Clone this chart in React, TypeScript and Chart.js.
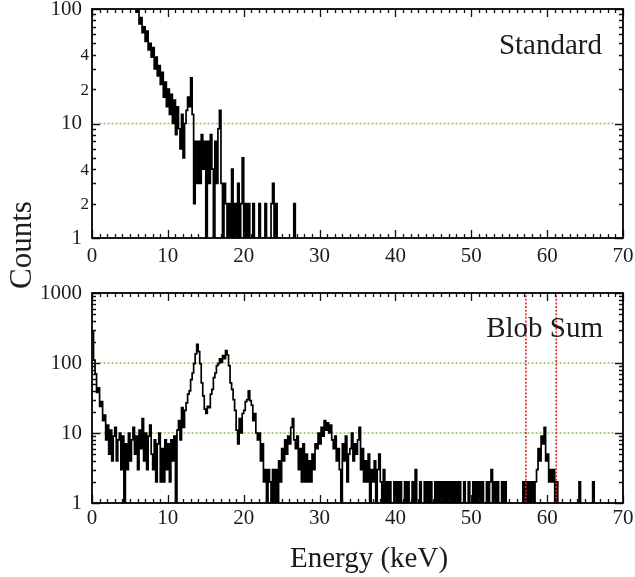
import React, { useEffect, useRef } from 'react';
import { Chart, registerables } from 'chart.js';

Chart.register(...registerables);

// ---------- data ----------
const BIN_KEV = 0.2; // width of each energy bin, bins start at 0 keV

// "Standard" spectrum, counts per 0.2 keV bin (from 0 keV)
const STANDARD_COUNTS = [
  620, 580, 545, 520, 490, 460, 440, 415, 395, 370, 350, 330, 312, 295, 280, 262, 248, 236, 222, 210, 198, 186, 176, 166, 156,
  147, 136, 124, 104, 94, 98, 74, 84, 62, 70, 52, 64, 44, 50, 38, 46, 30, 38, 26, 32, 22, 28, 17, 23, 14,
  20, 12, 18, 10, 16, 8, 14, 9, 6, 12, 5, 10, 13, 17, 14, 25, 12, 2, 7, 3, 7, 3, 8, 4, 7,
  1, 7, 3, 8, 4, 0, 7, 3, 9, 13, 3, 1, 3, 2, 0, 2, 1, 4, 0, 2, 1, 3, 0, 2, 5,
  1, 2, 0, 2, 0, 1, 2, 0, 1, 0, 2, 0, 0, 1, 2, 0, 0, 1, 2, 3, 0, 2, 0, 0, 1,
  0, 0, 0, 0, 0, 0, 0, 0, 2, 0, 0,
];

// "Blob Sum" spectrum, counts per 0.2 keV bin (from 0 keV)
const BLOB_SUM_COUNTS = [
  280, 110, 70, 38, 44, 24, 28, 15, 18, 8, 13, 5, 11, 4, 9, 12, 4, 8, 10, 3, 9, 0, 7, 3, 10,
  4, 8, 12, 5, 9, 3, 11, 6, 16, 4, 10, 3, 9, 13, 5, 3, 8, 2, 7, 10, 2, 6, 2, 8, 3,
  7, 2, 8, 4, 9, 0, 11, 15, 8, 23, 12, 21, 27, 36, 40, 58, 72, 98, 135, 185, 145, 98, 52, 34, 22,
  19, 24, 23, 36, 42, 62, 72, 92, 98, 115, 102, 128, 115, 150, 130, 92, 52, 42, 30, 21, 11, 7, 16, 10, 19,
  21, 28, 30, 40, 29, 25, 15, 19, 10, 8, 10, 4, 7, 2, 3, 1, 3, 2, 0, 3, 1, 3, 0, 4, 2,
  6, 4, 8, 5, 9, 7, 12, 16, 8, 6, 9, 3, 6, 2, 7, 2, 5, 2, 4, 2, 5, 3, 7, 6, 10,
  7, 12, 9, 15, 11, 14, 10, 13, 8, 6, 9, 4, 6, 3, 1, 7, 4, 9, 2, 5, 6, 10, 4, 7, 5,
  8, 12, 3, 6, 2, 4, 2, 5, 1, 3, 2, 4, 1, 3, 5, 2, 1, 3, 0, 2, 1, 2, 1, 0, 2,
  1, 2, 1, 2, 1, 0, 2, 1, 2, 1, 0, 2, 1, 3, 1, 0, 2, 0, 0, 2, 1, 2, 0, 2, 1,
  0, 2, 1, 2, 0, 2, 1, 2, 1, 2, 1, 2, 0, 2, 1, 2, 1, 2, 1, 0, 2, 1, 0, 2, 1,
  0, 2, 1, 2, 0, 2, 0, 2, 1, 0, 2, 1, 2, 3, 1, 2, 0, 2, 1, 0, 2, 0, 2, 1, 0,
  1, 0, 0, 0, 0, 0, 0, 0, 0, 2, 1, 2, 1, 2, 1, 2, 1, 2, 3, 6, 4, 9, 7, 12, 4,
  5, 2, 3, 2, 3, 1, 2, 0, 0, 0, 0, 0, 0, 0, 0, 0, 0, 0, 0, 0, 0, 2, 0, 0, 0,
  0, 0, 0, 0, 0, 2, 0,
];

const X_MIN = 0;
const X_MAX = 70;
const X_MAJOR_TICKS = [0, 10, 20, 30, 40, 50, 60, 70];

const TOP_Y_MAJOR = [1, 10, 100];
const TOP_Y_MINOR_LABELS = [2, 4, 20, 40];
const TOP_GRID_Y = [10];

const BOTTOM_Y_MAJOR = [1, 10, 100, 1000];
const BOTTOM_GRID_Y = [10, 100];
const BOTTOM_ROI_KEV = [57.2, 61.2];

const GRID_SPAN_KEV = [1, 69];

const TOP_TITLE = 'Standard';
const BOTTOM_TITLE = 'Blob Sum';
const X_TITLE = 'Energy (keV)';
const Y_TITLE = 'Counts';

// ---------- style ----------
const SERIF = '"Liberation Serif", "Times New Roman", serif';
const TEXT = '#1c1c1c';
const GREEN = '#8cc859';
const RED = '#e3232b';

type PanelSpec = {
  counts: number[];
  yMajor: number[];
  yMinorLabels: number[];
  gridY: number[];
  roi: number[];
  title: string;
  padTop: number;
  xAxisHeight: number;
  xLabelPad: number;
  titleRight: number;
  titleBaseline: number;
};

function logTicks(majors: number[]): number[] {
  const out: number[] = [];
  for (let i = 0; i < majors.length - 1; i++) {
    for (let m = 1; m <= 9; m++) out.push(majors[i] * m);
  }
  out.push(majors[majors.length - 1]);
  return out;
}

function xMinorTicks(): number[] {
  const out: number[] = [];
  for (let v = X_MIN; v <= X_MAX; v++) out.push(v);
  return out;
}

function buildConfig(spec: PanelSpec): any {
  const yTicks = logTicks(spec.yMajor);
  const yMin = spec.yMajor[0];
  const yMax = spec.yMajor[spec.yMajor.length - 1];

  const histPoints = spec.counts.map((c, i) => ({ x: i * BIN_KEV, y: c > 0 ? c : 0.5 }));
  const last = spec.counts[spec.counts.length - 1];
  histPoints.push({ x: spec.counts.length * BIN_KEV, y: last > 0 ? last : 0.5 });

  const datasets: any[] = [];
  spec.gridY.forEach((g) => {
    datasets.push({
      data: [
        { x: GRID_SPAN_KEV[0], y: g },
        { x: GRID_SPAN_KEV[1], y: g },
      ],
      borderColor: GREEN,
      borderWidth: 1.6,
      borderDash: [2, 2],
      pointRadius: 0,
      fill: false,
      order: 3,
      clip: 0,
    });
  });
  datasets.push({
    data: histPoints,
    borderColor: '#000',
    borderWidth: 1.7,
    pointRadius: 0,
    fill: false,
    stepped: true,
    tension: 0,
    order: 2,
    clip: 0,
  });
  spec.roi.forEach((r) => {
    datasets.push({
      data: [
        { x: r, y: yMin * 0.5 },
        { x: r, y: yMax * 2 },
      ],
      borderColor: RED,
      borderWidth: 1.6,
      borderDash: [2, 1.6],
      pointRadius: 0,
      fill: false,
      order: 1,
      clip: 0,
    });
  });

  const decor = {
    id: 'decor',
    afterDraw(chart: any) {
      const { ctx, chartArea: a, scales } = chart;
      const xs = scales.x;
      const ys = scales.y;
      ctx.save();
      ctx.strokeStyle = '#111';
      ctx.lineWidth = 1.3;
      ctx.beginPath();
      for (const v of xMinorTicks()) {
        const px = Math.round(xs.getPixelForValue(v)) + 0.5;
        const L = X_MAJOR_TICKS.includes(v) ? 8 : 4;
        ctx.moveTo(px, a.bottom);
        ctx.lineTo(px, a.bottom - L);
        ctx.moveTo(px, a.top);
        ctx.lineTo(px, a.top + L);
      }
      for (const v of yTicks) {
        const py = Math.round(ys.getPixelForValue(v)) + 0.5;
        const L = spec.yMajor.includes(v) ? 8 : 4;
        ctx.moveTo(a.left, py);
        ctx.lineTo(a.left + L, py);
        ctx.moveTo(a.right, py);
        ctx.lineTo(a.right - L, py);
      }
      ctx.stroke();

      ctx.lineWidth = 1.8;
      ctx.strokeStyle = '#000';
      ctx.strokeRect(a.left, a.top, a.right - a.left, a.bottom - a.top);

      ctx.fillStyle = TEXT;
      ctx.font = `17px ${SERIF}`;
      ctx.textAlign = 'right';
      ctx.textBaseline = 'middle';
      for (const v of spec.yMinorLabels) {
        const py = ys.getPixelForValue(v);
        ctx.fillText(String(v).charAt(0), a.left - 3, py + 1);
      }

      ctx.font = `29px ${SERIF}`;
      ctx.textAlign = 'right';
      ctx.textBaseline = 'alphabetic';
      ctx.fillText(spec.title, a.right - spec.titleRight, a.top + spec.titleBaseline);
      ctx.restore();
    },
  };

  return {
    type: 'line',
    data: { datasets },
    plugins: [decor],
    options: {
      responsive: false,
      animation: false,
      events: [],
      layout: { padding: { top: spec.padTop, right: 12, left: 0, bottom: 0 } },
      plugins: { legend: { display: false }, tooltip: { enabled: false }, title: { display: false } },
      scales: {
        x: {
          type: 'linear',
          min: X_MIN,
          max: X_MAX,
          position: 'bottom',
          grid: { display: false, drawTicks: false },
          border: { display: false },
          ticks: {
            autoSkip: false,
            maxRotation: 0,
            padding: spec.xLabelPad,
            color: TEXT,
            font: { family: SERIF, size: 21 },
            callback: (v: any) => String(v),
          },
          afterBuildTicks: (s: any) => {
            s.ticks = X_MAJOR_TICKS.map((v) => ({ value: v }));
          },
          afterFit: (s: any) => {
            s.height = spec.xAxisHeight;
            s.paddingLeft = 0;
            s.paddingRight = 0;
          },
        },
        y: {
          type: 'logarithmic',
          min: yMin,
          max: yMax,
          position: 'left',
          grid: { display: false, drawTicks: false },
          border: { display: false },
          ticks: {
            autoSkip: false,
            padding: 10,
            color: TEXT,
            font: { family: SERIF, size: 21 },
            callback: (v: any) => (spec.yMajor.includes(Number(v)) ? String(v) : ''),
          },
          afterBuildTicks: (s: any) => {
            s.ticks = yTicks.map((v) => ({ value: v }));
          },
          afterFit: (s: any) => {
            s.width = 92;
            s.paddingTop = 0;
            s.paddingBottom = 0;
          },
        },
      },
    },
  };
}

export default function App() {
  const topRef = useRef<HTMLCanvasElement>(null);
  const botRef = useRef<HTMLCanvasElement>(null);

  useEffect(() => {
    const top = new Chart(
      topRef.current as HTMLCanvasElement,
      buildConfig({
        counts: STANDARD_COUNTS,
        yMajor: TOP_Y_MAJOR,
        yMinorLabels: TOP_Y_MINOR_LABELS,
        gridY: TOP_GRID_Y,
        roi: [],
        title: TOP_TITLE,
        padTop: 9,
        xAxisHeight: 37,
        xLabelPad: 6,
        titleRight: 21,
        titleBaseline: 45,
      })
    );
    const bottom = new Chart(
      botRef.current as HTMLCanvasElement,
      buildConfig({
        counts: BLOB_SUM_COUNTS,
        yMajor: BOTTOM_Y_MAJOR,
        yMinorLabels: [],
        gridY: BOTTOM_GRID_Y,
        roi: BOTTOM_ROI_KEV,
        title: BOTTOM_TITLE,
        padTop: 13,
        xAxisHeight: 74,
        xLabelPad: 3,
        titleRight: 20,
        titleBaseline: 44,
      })
    );
    return () => {
      top.destroy();
      bottom.destroy();
    };
  }, []);

  return (
    <div
      style={{
        position: 'absolute',
        left: 0,
        top: 0,
        width: 635,
        height: 577,
        background: '#fff',
        overflow: 'hidden',
        fontFamily: SERIF,
        color: TEXT,
      }}
    >
      <canvas ref={topRef} width={635} height={275} style={{ position: 'absolute', left: 0, top: 0, display: 'block' }} />
      <canvas ref={botRef} width={635} height={297} style={{ position: 'absolute', left: 0, top: 280, display: 'block' }} />
      <div
        style={{
          position: 'absolute',
          left: -79,
          top: 228,
          width: 200,
          height: 34,
          lineHeight: '34px',
          fontSize: 31,
          textAlign: 'center',
          transform: 'rotate(-90deg)',
          whiteSpace: 'nowrap',
        }}
      >
        {Y_TITLE}
      </div>
      <div
        style={{
          position: 'absolute',
          left: 219,
          top: 541,
          width: 300,
          height: 32,
          lineHeight: '32px',
          fontSize: 29,
          textAlign: 'center',
          whiteSpace: 'nowrap',
        }}
      >
        {X_TITLE}
      </div>
    </div>
  );
}
